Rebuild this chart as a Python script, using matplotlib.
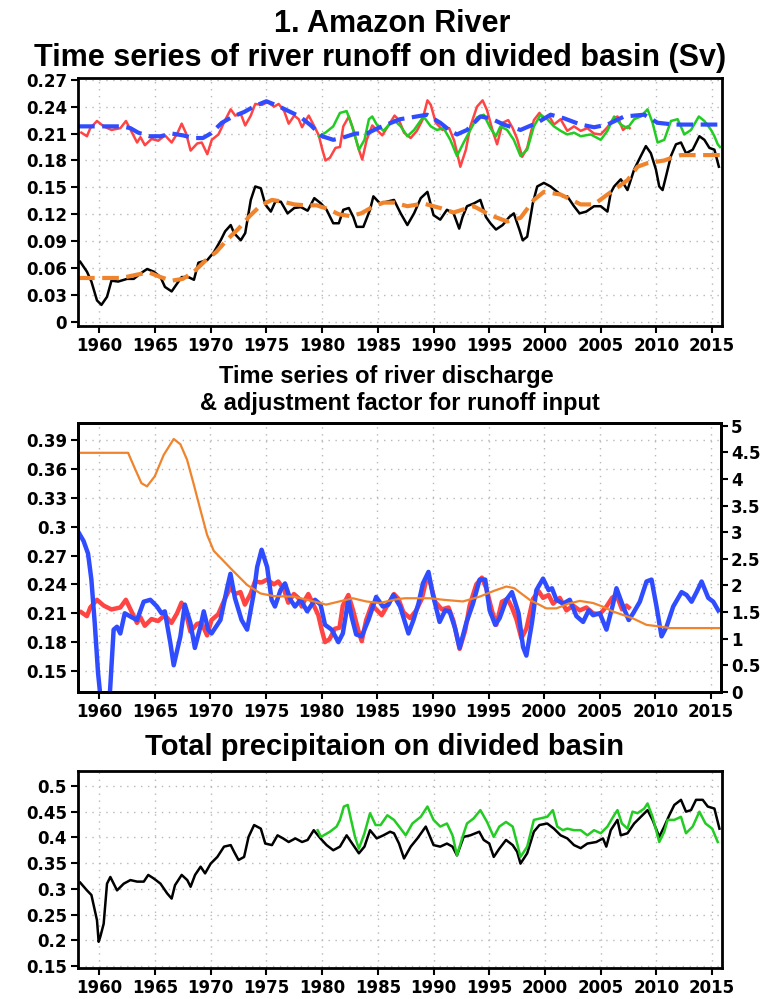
import matplotlib
matplotlib.use('Agg')
import matplotlib.pyplot as plt
from matplotlib.ticker import FormatStrFormatter, MultipleLocator

# ---- panel 1: runoff on divided basin (Sv) ----
red_yr = [1958.4, 1958.9, 1959.2, 1959.8, 1960.4, 1961.1, 1961.9, 1962.4, 1962.9, 1963.4,
          1963.7, 1964.1, 1964.7, 1965.3, 1965.9, 1966.5, 1967.0, 1967.4, 1967.8, 1968.2,
          1968.8, 1969.2, 1969.7, 1970.1, 1970.7, 1971.3, 1971.8, 1972.2, 1972.7, 1973.1,
          1973.6, 1974.0, 1974.6, 1975.1, 1975.7, 1976.1, 1976.6, 1977.0, 1977.5, 1977.9,
          1978.2, 1978.5, 1978.8, 1979.3, 1979.7, 1980.0, 1980.3, 1980.7, 1981.2, 1981.6,
          1981.9, 1982.4, 1982.8, 1983.3, 1983.6, 1984.0, 1984.5, 1984.9, 1985.4, 1985.9,
          1986.5, 1986.9, 1987.35, 1987.95, 1988.5, 1989.0, 1989.45, 1989.75, 1990.2, 1990.8,
          1991.4, 1991.85, 1992.4, 1992.9, 1993.3, 1993.9, 1994.4, 1994.8, 1995.3, 1995.7,
          1996.2, 1996.7, 1997.1, 1997.5, 1997.95, 1998.4, 1999.0, 1999.5, 1999.9, 2000.4,
          2000.8, 2001.4, 2002.0, 2002.6, 2003.2, 2003.8, 2004.4, 2005.0, 2005.6, 2006.1,
          2006.5, 2007.0, 2007.4, 2007.6]
red_val = [0.211, 0.207, 0.216, 0.224, 0.218, 0.214, 0.216, 0.224, 0.212, 0.200,
           0.206, 0.197, 0.204, 0.202, 0.208, 0.200, 0.210, 0.221, 0.210, 0.191,
           0.199, 0.200, 0.187, 0.203, 0.209, 0.225, 0.237, 0.230, 0.232, 0.219,
           0.230, 0.243, 0.242, 0.245, 0.240, 0.243, 0.235, 0.221, 0.230, 0.226,
           0.217, 0.224, 0.230, 0.218, 0.208, 0.193, 0.180, 0.183, 0.194, 0.195,
           0.218, 0.229, 0.214, 0.192, 0.181, 0.203, 0.219, 0.214, 0.208, 0.218,
           0.230, 0.225, 0.211, 0.205, 0.213, 0.225, 0.247, 0.242, 0.222, 0.214,
           0.216, 0.202, 0.173, 0.192, 0.218, 0.240, 0.247, 0.236, 0.213, 0.198,
           0.222, 0.225, 0.216, 0.204, 0.184, 0.194, 0.225, 0.233, 0.226, 0.229,
           0.220, 0.226, 0.213, 0.218, 0.213, 0.216, 0.210, 0.209, 0.217, 0.226,
           0.229, 0.214, 0.218, 0.216]

green_yr = [1979.7, 1980.3, 1981.0, 1981.6, 1982.2, 1982.7, 1983.3, 1983.8, 1984.2, 1984.5,
            1984.9, 1985.5, 1986.1, 1986.45, 1987.05, 1987.65, 1988.25, 1989.1, 1989.75, 1990.3,
            1990.9, 1991.5, 1992.1, 1992.7, 1993.3, 1993.9, 1994.5, 1995.1, 1995.6, 1996.0,
            1996.6, 1997.2, 1997.8, 1998.4, 1999.0, 1999.6, 2000.2, 2000.8, 2001.4, 2002.0,
            2002.6, 2003.2, 2004.1, 2005.0, 2005.6, 2006.2, 2006.8, 2007.4, 2008.0, 2008.6,
            2009.2, 2009.65, 2010.1, 2010.7, 2011.3, 2011.9, 2012.5, 2013.1, 2013.8, 2014.3,
            2014.9, 2015.2, 2015.5, 2015.7]
green_val = [0.207, 0.211, 0.218, 0.233, 0.235, 0.218, 0.192, 0.203, 0.226, 0.229,
             0.220, 0.213, 0.221, 0.225, 0.218, 0.207, 0.214, 0.229, 0.218, 0.214,
             0.216, 0.203, 0.185, 0.200, 0.214, 0.228, 0.231, 0.216, 0.207, 0.218,
             0.214, 0.203, 0.185, 0.192, 0.218, 0.231, 0.226, 0.218, 0.213, 0.209,
             0.211, 0.207, 0.209, 0.203, 0.213, 0.229, 0.220, 0.216, 0.226, 0.229,
             0.237, 0.222, 0.200, 0.203, 0.224, 0.226, 0.209, 0.214, 0.229, 0.224,
             0.214, 0.207, 0.198, 0.195]

trend_blue_yr = [1958.1, 1960.0, 1962.0, 1962.8, 1963.5, 1964.5, 1965.5, 1966.5, 1967.5, 1968.5,
                 1969.3, 1970.0, 1971.0, 1972.0, 1973.0, 1974.0, 1975.0, 1976.0, 1977.0, 1978.0,
                 1979.0, 1980.0, 1981.0, 1982.0, 1983.0, 1984.0, 1985.0, 1986.0, 1987.0, 1988.0,
                 1989.4, 1990.6, 1991.5, 1992.1, 1993.0, 1994.2, 1995.1, 1996.3, 1997.8, 1999.3,
                 2000.5, 2001.7, 2003.2, 2004.4, 2005.6, 2007.1, 2008.9, 2010.1, 2011.6, 2013.0,
                 2015.9]
trend_blue_val = [0.218, 0.218, 0.218, 0.216, 0.211, 0.207, 0.207, 0.210, 0.208, 0.205,
                  0.205, 0.210, 0.222, 0.229, 0.234, 0.241, 0.246, 0.241, 0.235, 0.229,
                  0.219, 0.207, 0.203, 0.206, 0.210, 0.210, 0.216, 0.221, 0.226, 0.228,
                  0.231, 0.222, 0.213, 0.209, 0.214, 0.229, 0.227, 0.220, 0.214, 0.222,
                  0.231, 0.227, 0.220, 0.217, 0.220, 0.229, 0.231, 0.222, 0.220, 0.220,
                  0.220]

black_yr = [1958.3, 1958.9, 1959.3, 1959.8, 1960.2, 1960.7, 1961.1, 1961.7, 1962.5, 1963.1,
            1963.7, 1964.3, 1964.9, 1965.5, 1965.9, 1966.5, 1967.0, 1967.4, 1968.0, 1968.5,
            1968.9, 1969.7, 1970.3, 1970.9, 1971.3, 1971.8, 1972.1, 1972.7, 1973.1, 1973.6,
            1974.0, 1974.5, 1974.9, 1975.4, 1975.8, 1976.3, 1976.9, 1977.5, 1978.1, 1978.7,
            1979.3, 1979.9, 1980.4, 1981.0, 1981.5, 1981.9, 1982.4, 1982.8, 1983.1, 1983.7,
            1984.3, 1984.6, 1985.2, 1985.8, 1986.45, 1987.05, 1987.65, 1988.25, 1988.85, 1989.45,
            1990.0, 1990.6, 1991.2, 1991.8, 1992.3, 1992.6, 1993.0, 1993.6, 1994.2, 1994.7,
            1995.1, 1995.6, 1996.2, 1996.8, 1997.2, 1997.7, 1998.0, 1998.4, 1998.9, 1999.3,
            1999.9, 2000.5, 2001.1, 2001.6, 2002.0, 2002.6, 2003.1, 2003.7, 2004.4, 2005.0,
            2005.6, 2005.9, 2006.2, 2006.8, 2007.4, 2008.0, 2008.6, 2009.05, 2009.5, 2009.95,
            2010.25, 2010.55, 2010.85, 2011.3, 2011.75, 2012.2, 2012.65, 2013.25, 2013.85, 2014.3,
            2014.75, 2015.2, 2015.6]
black_val = [0.067, 0.056, 0.045, 0.024, 0.019, 0.028, 0.046, 0.045, 0.048, 0.048,
             0.054, 0.059, 0.056, 0.050, 0.039, 0.034, 0.043, 0.050, 0.050, 0.047,
             0.066, 0.069, 0.078, 0.091, 0.101, 0.108, 0.099, 0.091, 0.099, 0.136,
             0.151, 0.149, 0.131, 0.123, 0.134, 0.134, 0.121, 0.127, 0.128, 0.124,
             0.138, 0.132, 0.125, 0.110, 0.110, 0.125, 0.127, 0.117, 0.106, 0.106,
             0.125, 0.140, 0.132, 0.134, 0.136, 0.121, 0.108, 0.121, 0.138, 0.145,
             0.119, 0.114, 0.125, 0.121, 0.104, 0.117, 0.129, 0.132, 0.136, 0.117,
             0.110, 0.103, 0.108, 0.117, 0.121, 0.103, 0.091, 0.095, 0.132, 0.151,
             0.155, 0.151, 0.145, 0.140, 0.140, 0.129, 0.121, 0.123, 0.129, 0.129,
             0.123, 0.144, 0.151, 0.159, 0.147, 0.170, 0.185, 0.196, 0.188, 0.170,
             0.151, 0.147, 0.162, 0.185, 0.198, 0.200, 0.188, 0.192, 0.207, 0.203,
             0.194, 0.192, 0.173]

trend_orange_yr = [1958.1, 1962.0, 1963.5, 1964.5, 1965.5, 1966.5, 1967.5, 1968.5, 1969.5, 1970.5,
                   1971.5, 1972.5, 1973.5, 1974.5, 1975.5, 1976.5, 1977.5, 1978.5, 1979.5, 1980.5,
                   1981.5, 1982.5, 1983.5, 1984.5, 1985.5, 1986.5, 1987.65, 1989.1, 1990.6, 1991.8,
                   1993.6, 1995.1, 1996.6, 1997.8, 1999.0, 1999.9, 2001.4, 2003.2, 2004.4, 2005.6,
                   2007.4, 2008.3, 2009.2, 2010.7, 2011.6, 2012.2, 2015.9]
trend_orange_val = [0.049, 0.049, 0.053, 0.055, 0.050, 0.046, 0.048, 0.056, 0.068, 0.078,
                    0.092, 0.104, 0.118, 0.130, 0.136, 0.134, 0.131, 0.130, 0.130, 0.126,
                    0.120, 0.118, 0.121, 0.128, 0.133, 0.133, 0.129, 0.132, 0.127, 0.122,
                    0.129, 0.119, 0.112, 0.116, 0.136, 0.145, 0.142, 0.131, 0.131, 0.142,
                    0.158, 0.173, 0.177, 0.180, 0.184, 0.186, 0.186]

# ---- panel 2: river discharge & adjustment factor ----
disch_yr = [1958.2, 1958.6, 1959.0, 1959.3, 1959.6, 1959.9, 1960.4, 1960.8, 1961.0, 1961.3,
            1961.6, 1961.9, 1962.3, 1962.9, 1963.4, 1964.0, 1964.6, 1965.2, 1965.6, 1965.9,
            1966.4, 1966.7, 1967.3, 1967.7, 1968.2, 1968.6, 1969.1, 1969.4, 1969.8, 1970.1,
            1970.9, 1971.5, 1971.8, 1972.2, 1972.8, 1973.3, 1973.9, 1974.2, 1974.6, 1975.1,
            1975.5, 1975.8, 1976.3, 1976.7, 1977.2, 1977.6, 1978.1, 1978.7, 1979.4, 1979.9,
            1980.3, 1980.9, 1981.5, 1981.9, 1982.4, 1982.7, 1983.1, 1983.6, 1984.2, 1984.9,
            1985.5, 1986.0, 1986.45, 1987.05, 1987.8, 1988.25, 1988.7, 1989.1, 1989.6, 1990.0,
            1990.6, 1991.1, 1991.5, 1992.0, 1992.4, 1993.0, 1993.6, 1994.2, 1994.7, 1995.1,
            1995.6, 1996.0, 1996.6, 1997.1, 1997.7, 1998.1, 1998.4, 1998.9, 1999.3, 1999.9,
            2000.4, 2000.7, 2001.1, 2001.7, 2002.3, 2002.9, 2003.5, 2004.0, 2004.4, 2005.0,
            2005.6, 2006.2, 2006.5, 2007.1, 2007.6, 2008.0, 2008.6, 2009.2, 2009.65, 2010.1,
            2010.55, 2011.0, 2011.6, 2012.35, 2012.8, 2013.25, 2013.7, 2014.15, 2014.75, 2015.2,
            2015.65]
disch_val = [0.293, 0.285, 0.272, 0.245, 0.200, 0.148, 0.090, 0.100, 0.134, 0.193,
             0.196, 0.189, 0.210, 0.206, 0.203, 0.222, 0.224, 0.217, 0.210, 0.212,
             0.179, 0.156, 0.186, 0.219, 0.200, 0.174, 0.196, 0.212, 0.193, 0.189,
             0.203, 0.236, 0.251, 0.226, 0.203, 0.193, 0.231, 0.258, 0.276, 0.258,
             0.224, 0.217, 0.234, 0.241, 0.224, 0.217, 0.224, 0.212, 0.224, 0.219,
             0.198, 0.193, 0.180, 0.189, 0.224, 0.206, 0.188, 0.186, 0.203, 0.227,
             0.217, 0.219, 0.229, 0.217, 0.189, 0.203, 0.220, 0.241, 0.253, 0.229,
             0.201, 0.213, 0.212, 0.194, 0.174, 0.200, 0.220, 0.245, 0.245, 0.213,
             0.198, 0.205, 0.224, 0.232, 0.210, 0.175, 0.166, 0.200, 0.234, 0.246,
             0.234, 0.236, 0.224, 0.220, 0.224, 0.207, 0.201, 0.213, 0.208, 0.210,
             0.193, 0.220, 0.236, 0.217, 0.203, 0.210, 0.222, 0.243, 0.245, 0.217,
             0.186, 0.196, 0.217, 0.232, 0.229, 0.222, 0.232, 0.243, 0.226, 0.222,
             0.213]

factor_yr = [1958.1, 1962.6, 1963.2, 1963.8, 1964.3, 1965.0, 1965.8, 1966.7, 1967.3, 1967.9,
             1968.5, 1969.1, 1969.7, 1970.3, 1970.9, 1972.1, 1973.3, 1974.5, 1975.7, 1977.5,
             1979.3, 1980.4, 1981.6, 1982.8, 1984.0, 1985.2, 1986.7, 1987.5, 1989.7, 1991.0,
             1992.7, 1994.2, 1995.5, 1996.6, 1997.3, 1998.7, 2000.2, 2001.1, 2002.2, 2003.2,
             2004.4, 2005.3, 2006.2, 2008.0, 2009.2, 2010.4, 2011.3, 2015.9]
factor_val = [4.49, 4.49, 4.20, 3.92, 3.86, 4.05, 4.45, 4.75, 4.65, 4.36,
              3.90, 3.42, 2.95, 2.65, 2.52, 2.26, 2.01, 1.85, 1.80, 1.79,
              1.70, 1.64, 1.70, 1.76, 1.70, 1.67, 1.74, 1.76, 1.76, 1.73,
              1.70, 1.79, 1.90, 1.98, 1.95, 1.73, 1.57, 1.57, 1.66, 1.71,
              1.67, 1.60, 1.51, 1.38, 1.26, 1.23, 1.20, 1.20]

# ---- panel 3: total precipitation on divided basin ----
prec_yr = [1958.3, 1958.9, 1959.3, 1959.8, 1959.95, 1960.1, 1960.4, 1960.7, 1961.0, 1961.6,
           1962.2, 1962.8, 1963.4, 1964.0, 1964.4, 1964.9, 1965.5, 1966.1, 1966.5, 1966.8,
           1967.4, 1967.9, 1968.2, 1968.6, 1969.1, 1969.5, 1970.0, 1970.6, 1971.2, 1971.8,
           1972.1, 1972.5, 1973.0, 1973.4, 1973.9, 1974.5, 1974.9, 1975.5, 1976.0, 1976.5,
           1977.0, 1977.6, 1978.2, 1978.7, 1979.25, 1979.85, 1980.4, 1981.0, 1981.6, 1982.2,
           1982.7, 1983.3, 1983.8, 1984.3, 1984.9, 1985.5, 1986.1, 1986.45, 1986.9, 1987.35,
           1987.95, 1988.55, 1989.3, 1990.0, 1990.6, 1991.2, 1991.7, 1992.1, 1992.7, 1993.3,
           1994.1, 1994.5, 1995.0, 1995.4, 1995.9, 1996.5, 1997.1, 1997.5, 1997.8, 1998.4,
           1999.0, 1999.5, 2000.2, 2000.8, 2001.4, 2002.0, 2002.6, 2003.2, 2003.8, 2004.6,
           2005.2, 2005.5, 2005.9, 2006.5, 2006.8, 2007.4, 2008.0, 2008.6, 2009.2, 2009.65,
           2010.25, 2010.7, 2011.15, 2011.6, 2012.2, 2012.65, 2013.1, 2013.55, 2014.15, 2014.6,
           2015.2, 2015.65]
prec_val = [0.312, 0.297, 0.288, 0.239, 0.197, 0.207, 0.232, 0.310, 0.323, 0.297,
            0.310, 0.317, 0.314, 0.314, 0.327, 0.320, 0.310, 0.291, 0.281, 0.307,
            0.327, 0.317, 0.304, 0.327, 0.343, 0.330, 0.349, 0.362, 0.382, 0.385,
            0.372, 0.356, 0.362, 0.401, 0.424, 0.417, 0.388, 0.385, 0.404, 0.398,
            0.391, 0.398, 0.391, 0.395, 0.414, 0.398, 0.385, 0.375, 0.382, 0.404,
            0.388, 0.369, 0.382, 0.414, 0.398, 0.404, 0.411, 0.408, 0.388, 0.359,
            0.382, 0.398, 0.421, 0.385, 0.382, 0.388, 0.382, 0.365, 0.401, 0.404,
            0.411, 0.395, 0.388, 0.362, 0.378, 0.395, 0.385, 0.372, 0.349, 0.369,
            0.411, 0.424, 0.427, 0.417, 0.404, 0.398, 0.385, 0.379, 0.388, 0.391,
            0.398, 0.382, 0.414, 0.434, 0.404, 0.408, 0.427, 0.440, 0.453, 0.434,
            0.401, 0.421, 0.443, 0.463, 0.473, 0.450, 0.453, 0.473, 0.473, 0.460,
            0.456, 0.417]

prec2_yr = [1979.6, 1979.9, 1980.7, 1981.3, 1981.6, 1981.95, 1982.3, 1982.6, 1982.95, 1983.3,
            1983.8, 1984.3, 1984.8, 1985.25, 1985.85, 1986.45, 1987.05, 1987.5, 1988.1, 1988.85,
            1989.45, 1990.0, 1990.6, 1991.2, 1991.7, 1992.1, 1992.6, 1993.0, 1993.6, 1994.2,
            1994.8, 1995.4, 1995.9, 1996.5, 1997.1, 1997.5, 1997.8, 1998.4, 1999.0, 1999.6,
            2000.2, 2000.7, 2001.1, 2001.6, 2002.0, 2002.6, 2003.2, 2003.8, 2004.4, 2005.0,
            2005.6, 2006.2, 2006.5, 2006.9, 2007.4, 2007.85, 2008.3, 2008.9, 2009.2, 2009.65,
            2010.25, 2010.7, 2011.0, 2011.6, 2012.2, 2012.65, 2013.25, 2013.85, 2014.4, 2015.0,
            2015.5]
prec2_val = [0.414, 0.401, 0.411, 0.421, 0.434, 0.460, 0.463, 0.434, 0.401, 0.378,
             0.408, 0.447, 0.424, 0.424, 0.443, 0.434, 0.417, 0.404, 0.427, 0.440,
             0.460, 0.434, 0.421, 0.427, 0.404, 0.365, 0.401, 0.427, 0.437, 0.453,
             0.430, 0.401, 0.421, 0.430, 0.421, 0.388, 0.362, 0.382, 0.434, 0.437,
             0.440, 0.453, 0.421, 0.414, 0.417, 0.414, 0.414, 0.404, 0.414, 0.408,
             0.421, 0.443, 0.453, 0.427, 0.417, 0.450, 0.447, 0.456, 0.466, 0.440,
             0.391, 0.411, 0.434, 0.434, 0.440, 0.408, 0.421, 0.450, 0.427, 0.417,
             0.391]

year_ticks = list(range(1960, 2016, 5))

RED = '#ff4444'
GREEN = '#22cc22'
BLUE = '#2f4cff'
ORANGE = '#f0842c'

plt.rcParams['font.family'] = ['DejaVu Sans']
plt.rcParams['font.weight'] = 'bold'
title_font = ['Liberation Sans', 'DejaVu Sans']

fig = plt.figure(figsize=(7.78, 9.99), dpi=100)
ax1 = fig.add_axes([0.1003, 0.6737, 0.828, 0.2483])
ax2 = fig.add_axes([0.1003, 0.3073, 0.8265, 0.2693])
ax3 = fig.add_axes([0.1003, 0.0310, 0.828, 0.1972])


def style(ax):
    ax.set_xlim(1958.1, 2015.9)
    ax.set_xticks(year_ticks)
    ax.grid(True, color='#b8b8b8', linestyle=(0, (1, 4)), linewidth=1)
    for s in ax.spines.values():
        s.set_linewidth(2)
    ax.tick_params(direction='out', length=5, width=1.5, labelsize=12, pad=3)
    ax.yaxis.set_major_formatter(FormatStrFormatter('%g'))


ax1.plot(red_yr, red_val, color=RED, lw=1.8)
ax1.plot(green_yr, green_val, color=GREEN, lw=1.8)
ax1.plot(trend_blue_yr, trend_blue_val, color=BLUE, lw=3, dashes=(4, 1.8))
ax1.plot(black_yr, black_val, color='black', lw=1.8)
ax1.plot(trend_orange_yr, trend_orange_val, color=ORANGE, lw=3, dashes=(4, 1.8))
style(ax1)
ax1.set_ylim(-0.0045, 0.272)
ax1.yaxis.set_major_locator(MultipleLocator(0.03))

ax2.plot(red_yr, red_val, color=RED, lw=3.2)
ax2.plot(disch_yr, disch_val, color=BLUE, lw=3.2)
style(ax2)
ax2.set_ylim(0.1282, 0.4077)
ax2.set_yticks([0.15, 0.18, 0.21, 0.24, 0.27, 0.30, 0.33, 0.36, 0.39])
ax2r = ax2.twinx()
ax2r.plot(factor_yr, factor_val, color=ORANGE, lw=1.6)
ax2r.set_ylim(0, 5.05)
ax2r.yaxis.set_major_locator(MultipleLocator(0.5))
ax2r.yaxis.set_major_formatter(FormatStrFormatter('%g'))
ax2r.tick_params(direction='out', length=5, width=1.5, labelsize=12, pad=2)
for s in ax2r.spines.values():
    s.set_linewidth(2)

ax3.plot(prec_yr, prec_val, color='black', lw=1.8)
ax3.plot(prec2_yr, prec2_val, color=GREEN, lw=1.8)
style(ax3)
ax3.set_ylim(0.146, 0.529)
ax3.yaxis.set_major_locator(MultipleLocator(0.05))

fig.text(0.504, 0.968, '1. Amazon River', ha='center', va='baseline',
         fontsize=22, fontweight='bold', family=title_font)
fig.text(0.489, 0.9335, 'Time series of river runoff on divided basin (Sv)', ha='center',
         va='baseline', fontsize=22, fontweight='bold', family=title_font)
fig.text(0.496, 0.6166, 'Time series of river discharge', ha='center', va='baseline',
         fontsize=17, fontweight='bold', family=title_font)
fig.text(0.514, 0.5896, '& adjustment factor for runoff input', ha='center', va='baseline',
         fontsize=17, fontweight='bold', family=title_font)
fig.text(0.494, 0.2442, 'Total precipitaion on divided basin', ha='center', va='baseline',
         fontsize=21, fontweight='bold', family=title_font)

fig.savefig('out.png', dpi=100)
